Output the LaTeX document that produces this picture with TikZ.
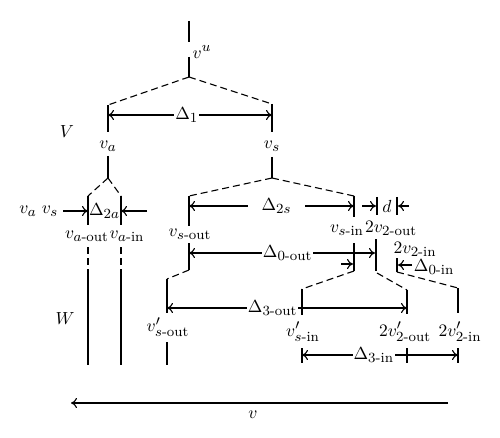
\documentclass[tikz,border=0pt]{standalone}
\usepackage{amsmath}
\usetikzlibrary{arrows.meta}
\DeclareMathSizes{10}{10}{8}{6}
\begin{document}
\begin{tikzpicture}[x=1pt,y=-1pt,line width=1.1pt,
  >={Computer Modern Rightarrow[length=6pt,width=10pt]},
  dsh/.style={dash pattern=on 7pt off 4pt},
  lbl/.style={scale=1.75,inner sep=0pt},
  dlbl/.style={lbl,fill=white,inner sep=0.6pt}]
\useasboundingbox (0,0) rectangle (500,438);
% ---- top
\coordinate (t0) at (189,21); \coordinate (t1) at (189,42);
\coordinate (t2) at (189,57); \coordinate (t3) at (189,77);
\node[lbl] (vu) at (202,52) {$v^u$};
\coordinate (a0) at (108,105); \coordinate (a1) at (108,132);
\coordinate (s0) at (272,104); \coordinate (s1) at (272,132);
\draw (t0)--(t1); \draw (t2)--(t3);
\draw[dsh] (t3)--(a0); \draw[dsh] (t3)--(s0);
\draw (a0)--(a1); \draw (s0)--(s1);
\coordinate (d1l) at (108,115); \coordinate (d1r) at (272,115);
\draw[<->] (d1l) -- node[dlbl,pos=0.48] (D1) {$\Delta_1$} (d1r);
\node[lbl] (V) at (67,132) {$V$};
\node[lbl] (va) at (108,146) {$v_a$};
\node[lbl] (vs) at (272,146) {$v_s$};
% ---- left subtree
\coordinate (a2) at (108,156); \coordinate (a3) at (108,178);
\coordinate (ao0) at (88,196); \coordinate (ao1) at (88,225);
\coordinate (ai0) at (121,196); \coordinate (ai1) at (121,225);
\draw (a2)--(a3); \draw[dsh] (a3)--(ao0); \draw[dsh] (a3)--(ai0);
\draw (ao0)--(ao1); \draw (ai0)--(ai1);
\node[lbl] (D2a) at (104.5,211) {$\Delta_{2a}$};
\coordinate (la) at (63,211); \coordinate (ao2) at (88,211);
\coordinate (ra) at (147,211); \coordinate (ai2) at (121,211);
\draw[->] (la)--(ao2); \draw[->] (ra)--(ai2);
\node[lbl] (vav) at (28,211) {$v_a$};
\node[lbl] (vsv) at (50,211) {$v_s$};
\node[lbl] (vaout) at (87,236) {$v_{a\text{-out}}$};
\node[lbl] (vain) at (127,236) {$v_{a\text{-in}}$};
\coordinate (ao3) at (88,247); \coordinate (ao4) at (88,272); \coordinate (ao5) at (88,365);
\coordinate (ai3) at (121,247); \coordinate (ai4) at (121,272); \coordinate (ai5) at (121,365);
\draw[dsh] (ao3)--(ao4); \draw (ao4)--(ao5);
\draw[dsh] (ai3)--(ai4); \draw (ai4)--(ai5);
\node[lbl] (W) at (65,319) {$W$};
% ---- right subtree
\coordinate (s2) at (272,157); \coordinate (s3) at (272,178);
\coordinate (so0) at (189,196); \coordinate (so1) at (189,226);
\coordinate (si0) at (354,196); \coordinate (si1) at (354,217);
\draw (s2)--(s3); \draw[dsh] (s3)--(so0); \draw[dsh] (s3)--(si0);
\draw (so0)--(so1); \draw (si0)--(si1);
\coordinate (so2) at (189,206); \coordinate (si2) at (354,206);
\draw[<->] (so2) -- node[dlbl,pos=0.53,inner xsep=8pt] (D2s) {$\Delta_{2s}$} (si2);
\node[lbl] (vsout) at (190,234) {$v_{s\text{-out}}$};
\node[lbl] (vsin) at (347,230) {$v_{s\text{-in}}$};
\node[lbl] (v2out) at (391,228) {$2v_{2\text{-out}}$};
% d
\coordinate (dl0) at (377,197); \coordinate (dl1) at (377,215);
\coordinate (dr0) at (397,197); \coordinate (dr1) at (397,215);
\draw (dl0)--(dl1); \draw (dr0)--(dr1);
\coordinate (dla) at (362,206); \coordinate (dlb) at (376,206);
\coordinate (dra) at (409,206); \coordinate (drb) at (398,206);
\draw[->] (dla)--(dlb); \draw[->] (dra)--(drb);
\node[lbl] (d) at (387,206) {$d$};
% second level verticals
\coordinate (so3) at (189,243); \coordinate (so4) at (189,270);
\coordinate (si3) at (354,243); \coordinate (si4) at (354,271);
\coordinate (vo0) at (376,239); \coordinate (vo1) at (376,271);
\draw (so3)--(so4); \draw (si3)--(si4); \draw (vo0)--(vo1);
\coordinate (so5) at (189,253); \coordinate (vo2) at (375,253);
\draw[<->] (so5) -- node[dlbl,pos=0.53] (D0out) {$\Delta_{0\text{-out}}$} (vo2);
\coordinate (sa) at (341,264); \coordinate (sb) at (353,264);
\draw[->] (sa)--(sb);
\node[lbl] (v2in) at (415,249) {$2v_{2\text{-in}}$};
\coordinate (vi0) at (397,258); \coordinate (vi1) at (397,272);
\draw (vi0)--(vi1);
\coordinate (via) at (412,265); \coordinate (vib) at (398,265);
\draw[->] (via)--(vib);
\node[lbl,anchor=west] (D0in) at (413,267) {$\Delta_{0\text{-in}}$};
% third level
\coordinate (p0) at (167,279); \coordinate (p1) at (167,313); \coordinate (p2) at (167,342); \coordinate (p3) at (167,365);
\coordinate (q0) at (302,289); \coordinate (q1) at (302,315); \coordinate (q2) at (302,348); \coordinate (q3) at (302,363);
\coordinate (r0) at (407,290); \coordinate (r1) at (407,314); \coordinate (r2) at (407,348); \coordinate (r3) at (407,363);
\coordinate (u0) at (458,288); \coordinate (u1) at (458,313); \coordinate (u2) at (458,348); \coordinate (u3) at (458,363);
\coordinate (vo3) at (377,273);
\draw[dsh] (so4)--(p0); \draw[dsh] (si4)--(q0); \draw[dsh] (vo3)--(r0); \draw[dsh] (vi1)--(u0);
\draw (p0)--(p1); \draw (p2)--(p3);
\draw (q0)--(q1); \draw (q2)--(q3);
\draw (r0)--(r1); \draw (r2)--(r3);
\draw (u0)--(u1); \draw (u2)--(u3);
\coordinate (p4) at (167,308); \coordinate (r4) at (407,308);
\draw[<->] (p4) -- node[dlbl,pos=0.44] (D3out) {$\Delta_{3\text{-out}}$} (r4);
\node[lbl] (vpsout) at (168,327) {$v'_{s\text{-out}}$};
\node[lbl] (vpsin) at (303,332) {$v'_{s\text{-in}}$};
\node[lbl] (v2pout) at (405,332) {$2v'_{2\text{-out}}$};
\node[lbl] (v2pin) at (460,332) {$2v'_{2\text{-in}}$};
\coordinate (q4) at (302,355); \coordinate (u4) at (458,355);
\draw[<->] (q4) -- node[dlbl,pos=0.46] (D3in) {$\Delta_{3\text{-in}}$} (u4);
% bottom
\coordinate (b0) at (448,403); \coordinate (b1) at (71,403);
\draw[->] (b0)--(b1);
\node[lbl] (nu) at (253,415) {$v$};
\end{tikzpicture}
\end{document}
